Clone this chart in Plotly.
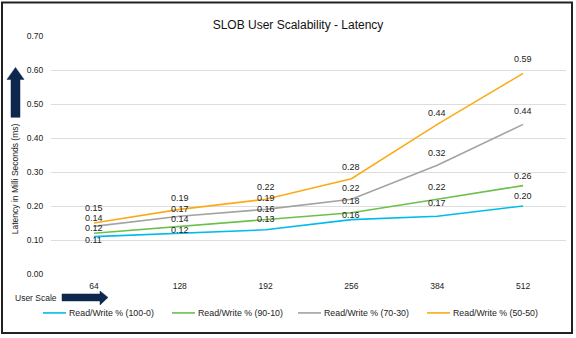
import plotly.graph_objects as go

# ---------------- data ----------------
user_scale = ["64", "128", "192", "256", "384", "512"]
rw_100_0 = [0.11, 0.12, 0.13, 0.16, 0.17, 0.20]
rw_90_10 = [0.12, 0.14, 0.16, 0.18, 0.22, 0.26]
rw_70_30 = [0.14, 0.17, 0.19, 0.22, 0.32, 0.44]
rw_50_50 = [0.15, 0.19, 0.22, 0.28, 0.44, 0.59]
series_names = ["Read/Write % (100-0)", "Read/Write % (90-10)",
                "Read/Write % (70-30)", "Read/Write % (50-50)"]
y_ticks = [0.0, 0.1, 0.2, 0.3, 0.4, 0.5, 0.6, 0.7]

# ---------------- styles ----------------
colors = ["#00BCEB", "#6CC04A", "#A3A3A3", "#FBAB18"]
# vertical label shift in px (positive = up), per series, per point
label_shift = [
    [-3, 3, 11, 5, 13, 10],
    [5, 7, 11, 12, 12, 10],
    [8, 7, 11, 11, 12, 13],
    [15, 11, 12, 12, 11, 14],
]
legend_line_x = [43, 172, 298, 427]   # px, start of legend swatch
LEGEND_Y = 313

W, H = 576, 338
L, R, T, B = 51, 10, 35.5, 64
PW, PH = W - L - R, H - T - B
FONT = "Liberation Sans, Arial, sans-serif"
NAVY = "#0D274D"
TXT = "#222222"


def px(x):
    return (x - L) / PW


def py(y):
    return (H - B - y) / PH


fig = go.Figure()
all_series = [rw_100_0, rw_90_10, rw_70_30, rw_50_50]
for name, vals, c in zip(series_names, all_series, colors):
    fig.add_trace(go.Scatter(x=user_scale, y=vals, mode="lines", name=name,
                             line=dict(color=c, width=1.6), showlegend=False))

annotations = []
for vals, shifts in zip(all_series, label_shift):
    for i, (v, s) in enumerate(zip(vals, shifts)):
        annotations.append(dict(x=i, y=v, xref="x", yref="y", text=f"{v:.2f}",
                                showarrow=False, yshift=s, xanchor="center", yanchor="middle",
                                font=dict(size=9, color=TXT, family=FONT)))

annotations += [
    dict(x=px(15), y=py(179), xref="paper", yref="paper", xanchor="center", yanchor="middle",
         text="Latency in Milli Seconds (ms)", textangle=-90, showarrow=False,
         font=dict(size=8.5, color=TXT, family=FONT)),
    dict(x=px(13), y=py(298), xref="paper", yref="paper", xanchor="left", yanchor="middle",
         text="User Scale", showarrow=False,
         font=dict(size=8.5, color=TXT, family=FONT)),
]

shapes = [
    dict(type="rect", xref="paper", yref="paper",
         x0=px(2), x1=px(572), y0=py(333), y1=py(2),
         line=dict(color="#222222", width=2), fillcolor="rgba(0,0,0,0)", layer="above"),
]
# legend (drawn manually to match placement)
for name, c, lx in zip(series_names, colors, legend_line_x):
    shapes.append(dict(type="line", xref="paper", yref="paper",
                       x0=px(lx), x1=px(lx + 23), y0=py(LEGEND_Y), y1=py(LEGEND_Y),
                       line=dict(color=c, width=1.6)))
    annotations.append(dict(x=px(lx + 24), y=py(LEGEND_Y), xref="paper", yref="paper",
                            xanchor="left", yanchor="middle", text=name, showarrow=False,
                            font=dict(size=8.8, color=TXT, family=FONT)))
# up arrow
up = [(11, 117), (11, 79), (7, 79), (15.5, 67), (24, 79), (20, 79), (20, 117)]
# right arrow
right = [(62, 294), (100, 294), (100, 291), (108, 297.5), (100, 305), (100, 301), (62, 301)]
for poly in (up, right):
    path = "M " + " L ".join(f"{px(a):.5f},{py(b):.5f}" for a, b in poly) + " Z"
    shapes.append(dict(type="path", xref="paper", yref="paper", path=path,
                       fillcolor=NAVY, line=dict(color=NAVY, width=0.5)))

fig.update_layout(
    template="none",
    width=W, height=H,
    margin=dict(l=L, r=R, t=T, b=B, autoexpand=False),
    paper_bgcolor="white", plot_bgcolor="white",
    font=dict(family=FONT, size=9, color=TXT),
    title=dict(text="SLOB User Scalability - Latency", x=298 / W, xanchor="center",
               y=1 - 25 / H, yanchor="middle", xref="container", yref="container",
               font=dict(size=12, color="#111111", family=FONT)),
    xaxis=dict(type="category", range=[-0.5, 5.5], showgrid=False, zeroline=False,
               showline=False, ticks="outside", ticklen=4, tickcolor="rgba(0,0,0,0)",
               automargin=False, tickfont=dict(size=8.5, color=TXT)),
    yaxis=dict(range=[0, 0.7], tickvals=y_ticks, tickformat=".2f",
               showgrid=True, gridcolor="#DDDDDD", gridwidth=1,
               zeroline=False, showline=False, automargin=False,
               ticks="outside", ticklen=5, tickcolor="rgba(0,0,0,0)",
               tickfont=dict(size=8.5, color=TXT)),
    showlegend=False,
    annotations=annotations,
    shapes=shapes,
)

fig.write_html("out.html")
